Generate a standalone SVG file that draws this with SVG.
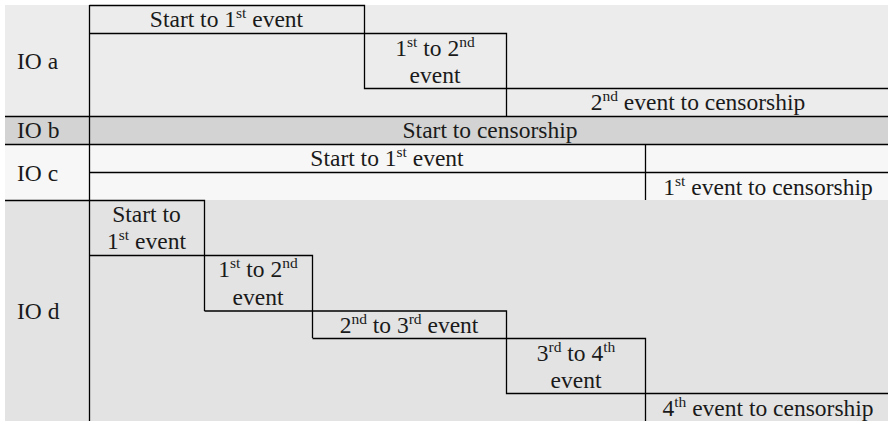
<svg xmlns="http://www.w3.org/2000/svg" width="889" height="421" viewBox="0 0 889 421">
<style>
text{font-family:"Liberation Serif","Times New Roman",serif;font-size:23.5px;fill:#1a1a1a}
.c{text-anchor:middle}
.s{font-size:15.5px}
.ln{stroke:#000;stroke-width:1.3;fill:none}
</style>
<rect width="889" height="421" fill="#ffffff"/>
<g id="backgrounds">
<rect x="5" y="5" width="883" height="111" fill="#ececec"/>
<rect x="5" y="116" width="883" height="28" fill="#d2d3d2"/>
<rect x="5" y="144" width="883" height="56" fill="#f7f7f7"/>
<rect x="5" y="200" width="883" height="221" fill="#e3e3e3"/>
</g>
<g id="connectors" class="ln">
<path d="M89.5 5V421"/>
<path d="M89.5 5.5H364.5V88.5H888"/>
<path d="M89.5 33.5H506.5V116"/>
<path d="M5 116.5H888M5 144.5H888"/>
<path d="M89.5 172.5H888M645.5 144.5V200"/>
<path d="M5 200.5H204.5V311"/>
<path d="M89.5 255.5H312.5V338"/>
<path d="M204.5 311H506.5V393.5H888"/>
<path d="M312.5 338.5H645.5V421"/>
</g>
<g id="io-a-label"><text x="17" y="69">IO a</text></g>
<g id="io-a-seg1"><text class="c" x="226.5" y="27">Start to 1<tspan class="s" dy="-9">st</tspan><tspan dy="9"> event</tspan></text></g>
<g id="io-a-seg2"><text class="c" x="435" y="56">1<tspan class="s" dy="-9">st</tspan><tspan dy="9"> to 2</tspan><tspan class="s" dy="-9">nd</tspan></text><text class="c" x="435" y="83">event</text></g>
<g id="io-a-seg3"><text class="c" x="698" y="110">2<tspan class="s" dy="-9">nd</tspan><tspan dy="9"> event to censorship</tspan></text></g>
<g id="io-b-label"><text x="17" y="138">IO b</text></g>
<g id="io-b-seg1"><text class="c" x="490" y="138">Start to censorship</text></g>
<g id="io-c-label"><text x="17" y="181">IO c</text></g>
<g id="io-c-seg1"><text class="c" x="387" y="166">Start to 1<tspan class="s" dy="-9">st</tspan><tspan dy="9"> event</tspan></text></g>
<g id="io-c-seg2"><text class="c" x="768" y="195">1<tspan class="s" dy="-9">st</tspan><tspan dy="9"> event to censorship</tspan></text></g>
<g id="io-d-label"><text x="17" y="319">IO d</text></g>
<g id="io-d-seg1"><text class="c" x="146.5" y="222">Start to</text><text class="c" x="146.5" y="249">1<tspan class="s" dy="-9">st</tspan><tspan dy="9"> event</tspan></text></g>
<g id="io-d-seg2"><text class="c" x="258" y="277">1<tspan class="s" dy="-9">st</tspan><tspan dy="9"> to 2</tspan><tspan class="s" dy="-9">nd</tspan></text><text class="c" x="258" y="305">event</text></g>
<g id="io-d-seg3"><text class="c" x="409" y="333">2<tspan class="s" dy="-9">nd</tspan><tspan dy="9"> to 3</tspan><tspan class="s" dy="-9">rd</tspan><tspan dy="9"> event</tspan></text></g>
<g id="io-d-seg4"><text class="c" x="576" y="361">3<tspan class="s" dy="-9">rd</tspan><tspan dy="9"> to 4</tspan><tspan class="s" dy="-9">th</tspan></text><text class="c" x="576" y="388">event</text></g>
<g id="io-d-seg5"><text class="c" x="768" y="416">4<tspan class="s" dy="-9">th</tspan><tspan dy="9"> event to censorship</tspan></text></g>
</svg>
